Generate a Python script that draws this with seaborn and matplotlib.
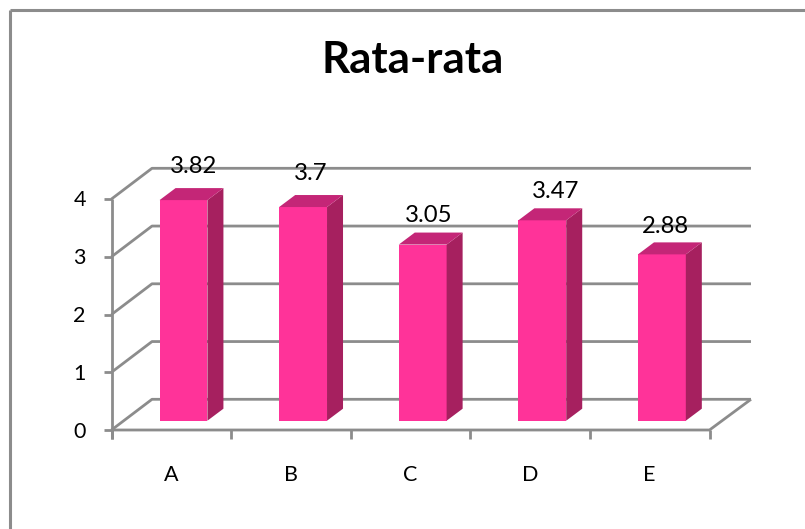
import matplotlib
matplotlib.use("Agg")
import matplotlib.pyplot as plt
from matplotlib.lines import Line2D
from matplotlib.patches import Polygon
from matplotlib.transforms import Affine2D, IdentityTransform
import pandas as pd
import seaborn as sns

categories = ["A", "B", "C", "D", "E"]
values = [3.82, 3.7, 3.05, 3.47, 2.88]
y_ticks = [0, 1, 2, 3, 4]
title = "Rata-rata"

# nudges of the value labels, in pixels from the top centre of each bar
label_nudge_x = [10, 8, 6, 13, 4]
label_nudge_y = [22, 22, 17, 17, 16]

FACE, SIDE, TOP = "#FF3399", "#A6205F", "#C42677"
GREY = "#8C8C8C"
W, H = 805, 529

sns.set_theme(style="white")
plt.rcParams["font.family"] = ["Lato", "DejaVu Sans"]

fig = plt.figure(figsize=(W / 100, H / 100), dpi=100)
left, right, bottom, top = 111.5, 709.5, 430.0, 199.0
ax = fig.add_axes([left / W, 1 - bottom / H, (right - left) / W, (bottom - top) / H])

frame = pd.DataFrame({"group": categories, "value": values})
sns.barplot(data=frame, x="group", y="value", color=FACE, saturation=1,
            width=0.4, ax=ax, zorder=5)
ax.set_xlim(-0.5, 4.5)
ax.set_ylim(0, 4)
ax.axis("off")

px = IdentityTransform()


def to_px(x, y):
    return x, H - y


def wall_line(points, lw=2.0, z=1):
    xs, ys = zip(*[to_px(*p) for p in points])
    fig.add_artist(Line2D(xs, ys, color=GREY, lw=lw, transform=px, zorder=z,
                          solid_capstyle="butt"))


# walls: depth receding up and to the right
DX, DY = 40.5, 30.7
for v in y_ticks:
    y = H - ax.transData.transform((0, v))[1]
    wall_line([(left, y), (left + DX, y - DY), (right + DX + 1, y - DY)])
    wall_line([(left - 7.5, y), (left, y)])
wall_line([(left, bottom), (right, bottom), (right + DX + 1, bottom - DY)])
wall_line([(left, top), (left, bottom + 8.5)])
for i in range(len(categories) + 1):
    x = left + i * (right - left) / len(categories)
    wall_line([(x, bottom), (x, bottom + 8.5)])

# bars stand inside the floor, so shift the fronts off the axis plane
SHIFT_X, SHIFT_Y = 12.2, 9.3
BAR_DX, BAR_DY = 16.0, 12.0
ax.set_zorder(3)
ax.patch.set_visible(False)
for patch, v, nudge_x, nudge_y in zip(ax.patches, values, label_nudge_x, label_nudge_y):
    patch.set_transform(ax.transData + Affine2D().translate(SHIFT_X, SHIFT_Y))
    patch.set_clip_on(False)
    patch.set_linewidth(0)
    bx0, by0 = ax.transData.transform((patch.get_x(), 0))
    bx1, by1 = ax.transData.transform((patch.get_x() + patch.get_width(), v))
    bx0, bx1 = bx0 + SHIFT_X, bx1 + SHIFT_X
    by0, by1 = by0 + SHIFT_Y, by1 + SHIFT_Y
    ax.add_patch(Polygon([(bx1, by0), (bx1 + BAR_DX, by0 + BAR_DY),
                          (bx1 + BAR_DX, by1 + BAR_DY), (bx1, by1)],
                         closed=True, fc=SIDE, lw=0, transform=px, clip_on=False, zorder=6))
    ax.add_patch(Polygon([(bx0, by1), (bx0 + BAR_DX, by1 + BAR_DY),
                          (bx1 + BAR_DX, by1 + BAR_DY), (bx1, by1)],
                         closed=True, fc=TOP, lw=0, transform=px, clip_on=False, zorder=6))
    fig.text(((bx0 + bx1) / 2 + nudge_x) / W, (by1 + BAR_DY + nudge_y) / H, f"{v:g}",
             ha="center", va="center", fontsize=17.2, color="black", zorder=10)

for v in y_ticks:
    y = ax.transData.transform((0, v))[1]
    fig.text(79.5 / W, (y - 1.5) / H, str(v), ha="center", va="center", fontsize=15.5, color="black")
for i, name in enumerate(categories):
    x = ax.transData.transform((i, 0))[0]
    fig.text(x / W, 1 - 475 / H, name, ha="center", va="center", fontsize=15.5, color="black")

fig.text(412.5 / W, 1 - 60 / H, title, ha="center", va="center",
         fontsize=31.5, fontweight="bold", color="black")

# outer chart frame along the top and left edges
wall_line([(10, 10), (W, 10)], lw=2.2, z=0)
wall_line([(10, 10), (10, H)], lw=2.2, z=0)

fig.savefig("out.png", dpi=100)
